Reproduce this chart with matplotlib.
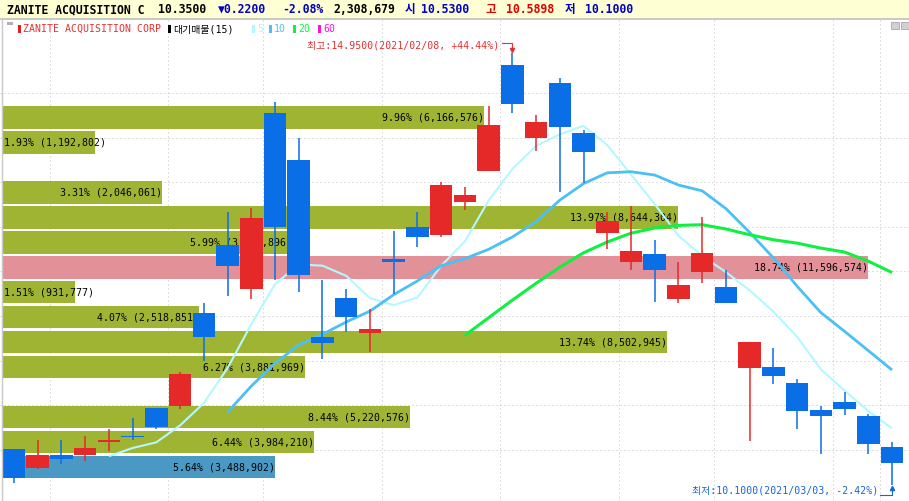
import numpy as np
import pandas as pd
import matplotlib
matplotlib.use("Agg")
import matplotlib.pyplot as plt
from matplotlib.patches import Rectangle
from matplotlib.lines import Line2D
from matplotlib.transforms import blended_transform_factory

# daily candles
dates = ["2021-01-07", "2021-01-08", "2021-01-11", "2021-01-12", "2021-01-13",
         "2021-01-14", "2021-01-15", "2021-01-19", "2021-01-20", "2021-01-21",
         "2021-01-22", "2021-01-25", "2021-01-26", "2021-01-27", "2021-01-28",
         "2021-01-29", "2021-02-01", "2021-02-02", "2021-02-03", "2021-02-04",
         "2021-02-05", "2021-02-08", "2021-02-09", "2021-02-10", "2021-02-11",
         "2021-02-12", "2021-02-16", "2021-02-17", "2021-02-18", "2021-02-19",
         "2021-02-22", "2021-02-23", "2021-02-24", "2021-02-25", "2021-02-26",
         "2021-03-01", "2021-03-02", "2021-03-03"]
opens = [10.51, 10.30, 10.44, 10.44, 10.59, 10.66, 10.97, 10.99, 12.03, 12.80,
         12.30, 14.27, 13.75, 11.77, 12.20, 11.81, 12.64, 13.00, 12.91, 13.28,
         13.63, 14.81, 14.00, 14.61, 14.05, 12.93, 12.61, 12.70, 12.19, 12.49,
         12.33, 11.42, 11.43, 11.25, 10.95, 11.04, 10.88, 10.53]
highs = [10.51, 10.61, 10.61, 10.66, 10.73, 10.86, 10.97, 11.37, 12.15, 13.17,
         13.21, 14.40, 13.99, 12.40, 12.30, 12.08, 12.95, 13.17, 13.50, 13.45,
         14.35, 14.95, 14.25, 14.67, 14.09, 13.17, 13.23, 12.85, 12.60, 13.11,
         12.52, 11.71, 11.64, 11.29, 10.99, 11.15, 10.90, 10.5898]
lows = [10.13, 10.28, 10.34, 10.38, 10.49, 10.61, 10.73, 10.96, 11.50, 12.22,
        12.19, 12.40, 12.27, 11.52, 11.82, 11.60, 12.25, 12.77, 12.89, 13.19,
        13.62, 14.27, 13.85, 13.39, 13.49, 12.75, 12.51, 12.16, 12.15, 12.37,
        12.14, 10.60, 11.24, 10.73, 10.45, 10.89, 10.45, 10.10]
closes = [10.18, 10.44, 10.40, 10.52, 10.60, 10.64, 10.76, 11.35, 11.77, 12.56,
          13.10, 13.00, 12.46, 11.70, 11.99, 11.85, 12.61, 12.89, 13.47, 13.36,
          14.14, 14.38, 14.18, 14.12, 13.84, 13.06, 12.73, 12.52, 12.35, 12.71,
          12.15, 11.71, 11.33, 10.94, 10.88, 10.96, 10.57, 10.35]
last_volume = 2308679

# volume profile (대기매물), 15 price bins from lowest to highest close
prof_pct = [5.64, 6.44, 8.44, 0.0, 6.27, 13.74, 4.07, 1.51, 18.74, 5.99,
            13.97, 3.31, 0.0, 1.93, 9.96]
prof_vol = [3488902, 3984210, 5220576, 0, 3881969, 8502945, 2518851, 931777,
            11596574, 3706896, 8644304, 2046061, 0, 1192802, 6166576]

ma_periods = [5, 10, 20, 60]
ma_colors = ["#b4f8ff", "#4cc0f5", "#10f040", "#ff10e0"]
ma_widths = [1.5, 2.0, 2.2, 2.0]

UP = "#e52929"
DOWN = "#0a6ee6"
OLIVE = "#a0b434"
PINK = "#e39198"
CUR = "#4a98c4"
GRID = "#c0c0c0"
FONT = ["DejaVu Sans Mono", "Noto Sans CJK KR"]
W, H = 909, 501

plt.rcParams["font.family"] = FONT

fig = plt.figure(figsize=(W / 100, H / 100), dpi=100)


def fxy(x, y):
    return x / W, 1 - y / H


ax = fig.add_axes([0, 0, 1, 481 / H])
n = len(closes)
idx = np.arange(n)
o = np.array(opens)
c = np.array(closes)
hi = np.array(highs)
lo = np.array(lows)

ax.set_xlim(-0.59, 37.716)
ax.set_ylim(9.926, 15.318)
for s in ax.spines.values():
    s.set_visible(False)
ax.tick_params(length=0, labelleft=False, labelbottom=False)

# grid: price every 0.5, vertical at week changes (+ last session)
ax.set_yticks(np.arange(10.5, 14.51, 0.5))
wd = pd.to_datetime(pd.Series(dates)).dt.weekday.values
vlines = [i - 0.5 for i in range(1, n) if wd[i] < wd[i - 1]] + [n - 1.5]
ax.set_xticks(vlines)
ax.set_axisbelow(True)
ax.grid(True, color=GRID, linestyle=(0, (1, 3)), linewidth=0.72)

# volume profile bars
blend = blended_transform_factory(ax.transAxes, ax.transData)
edges = np.linspace(c.min(), c.max(), len(prof_pct) + 1)
step = edges[1] - edges[0]
pmax = max(prof_pct)
cur_bin = int(np.clip(np.searchsorted(edges, c[-1]) - 1, 0, len(prof_pct) - 1))
x0 = 2 / W
labels = []
for k, (p, v) in enumerate(zip(prof_pct, prof_vol)):
    if p <= 0:
        continue
    w = min(p / pmax * (1 - x0), 0.953)
    col = PINK if p == pmax else (CUR if k == cur_bin else OLIVE)
    ax.add_patch(Rectangle((x0, edges[k]), w, step - 0.026, transform=blend,
                           facecolor=col, edgecolor="none", zorder=1))
    t = ax.text(x0 + w, edges[k] + (step - 0.026) / 2, f"{p:.2f}% ({v:,})",
                transform=blend, ha="right", va="center", fontsize=7.1,
                color="black", zorder=2)
    labels.append(t)

fig.canvas.draw()
rend = fig.canvas.get_renderer()
for t in labels:
    bb = t.get_window_extent(rend)
    if bb.x0 < 2:
        t.set_ha("left")
        t.set_x(x0 + 1.5 / W)

# moving averages
for per, col, lw in zip(ma_periods, ma_colors, ma_widths):
    ma = pd.Series(c).rolling(per).mean()
    ax.plot(idx, ma, color=col, lw=lw, zorder=3, solid_capstyle="butt")

# candles
colors = np.where(c >= o, UP, DOWN)
ax.vlines(idx, lo, hi, colors=colors, lw=1.1, zorder=4)
body = np.maximum(np.abs(c - o), 0.016)
ax.bar(idx, body, bottom=np.minimum(o, c), width=0.95, color=colors,
       edgecolor="none", zorder=5)

# highest / lowest markers
ih = int(np.argmax(hi))
il = int(np.argmin(lo))
hcol = "#e53030"
lcol = "#1464dc"
hy = hi[ih]
ax.plot([ih - 0.455, ih, ih], [hy + 0.105, hy + 0.105, hy + 0.035],
        color=hcol, lw=0.8, zorder=6)
ax.plot([ih], [hy + 0.035], marker="v", ms=3, color=hcol, zorder=6)
ax.text(ih - 0.57, hy + 0.086,
        f"최고:{hy:.4f}({dates[ih].replace('-', '/')}, {(hy / c[-1] - 1) * 100:+.2f}%)",
        ha="right", va="center", fontsize=7.1, color=hcol, zorder=6)
ly = lo[il]
ax.plot([il - 0.49, il, il], [ly - 0.105, ly - 0.105, ly - 0.03],
        color=lcol, lw=0.8, zorder=6)
ax.plot([il], [ly - 0.03], marker="^", ms=3, color=lcol, zorder=6)
ax.text(il - 0.59, ly - 0.06,
        f"최저:{ly:.4f}({dates[il].replace('-', '/')}, {(ly / c[-1] - 1) * 100:+.2f}%)",
        ha="right", va="center", fontsize=7.1, color=lcol, zorder=6)

# left border
fig.add_artist(Line2D([2 / W, 2 / W], [0, 481 / H], color="#c8c8c8", lw=1))

# header bar
fig.add_artist(Rectangle(fxy(0, 19), 1, 19 / H, facecolor="#ffffd4",
                         edgecolor="none"))
fig.add_artist(Line2D([0, 1], [1 - 19 / H] * 2, color="#c0c0c0", lw=1.2))
chg = c[-1] - c[-2]
hblue = "#0000c8"
hred = "#e00000"
head = [("ZANITE ACQUISITION C", 7, "black"),
        (f"{c[-1]:.4f}", 158, "black"),
        (("▼" if chg < 0 else "▲") + f"{abs(chg):.4f}", 218, hblue),
        (f"{chg / c[-2] * 100:.2f}%", 282, hblue),
        (f"{last_volume:,}", 333, "black"),
        ("시", 405, hblue), (f"{o[-1]:.4f}", 421, hblue),
        ("고", 486, hred), (f"{hi[-1]:.4f}", 506, hred),
        ("저", 565, hblue), (f"{lo[-1]:.4f}", 585, hblue)]
for txt, x, col in head:
    fig.text(*fxy(x, 9.5), txt, ha="left", va="center", fontsize=8.3,
             fontweight="bold", color=col)

# legend row
fig.add_artist(Rectangle(fxy(7, 25), 6 / W, 3 / H, facecolor="#b0b0b0",
                         edgecolor="none"))
leg = [("ZANITE ACQUISITION CORP", 18, "#e02020", "#e83030"),
       (f"대기매물({len(prof_pct)})", 168, "black", "black")]
xs = [252, 269, 293, 318]
for per, col, x in zip(ma_periods, ma_colors, xs):
    leg.append((str(per), x, col, col))
for txt, x, mcol, tcol in leg:
    fig.add_artist(Rectangle(fxy(x, 33), 3 / W, 8 / H, facecolor=mcol,
                             edgecolor="none"))
    fig.text(*fxy(x + 5, 29), txt, ha="left", va="center", fontsize=7.1,
             color=tcol)

# window buttons (top right)
for x in (891, 901):
    fig.add_artist(Rectangle(fxy(x, 29), 8 / W, 7 / H, facecolor="#d0d0d0",
                             edgecolor="#a8a8a8", lw=0.6))

fig.savefig("out.png", dpi=100)
